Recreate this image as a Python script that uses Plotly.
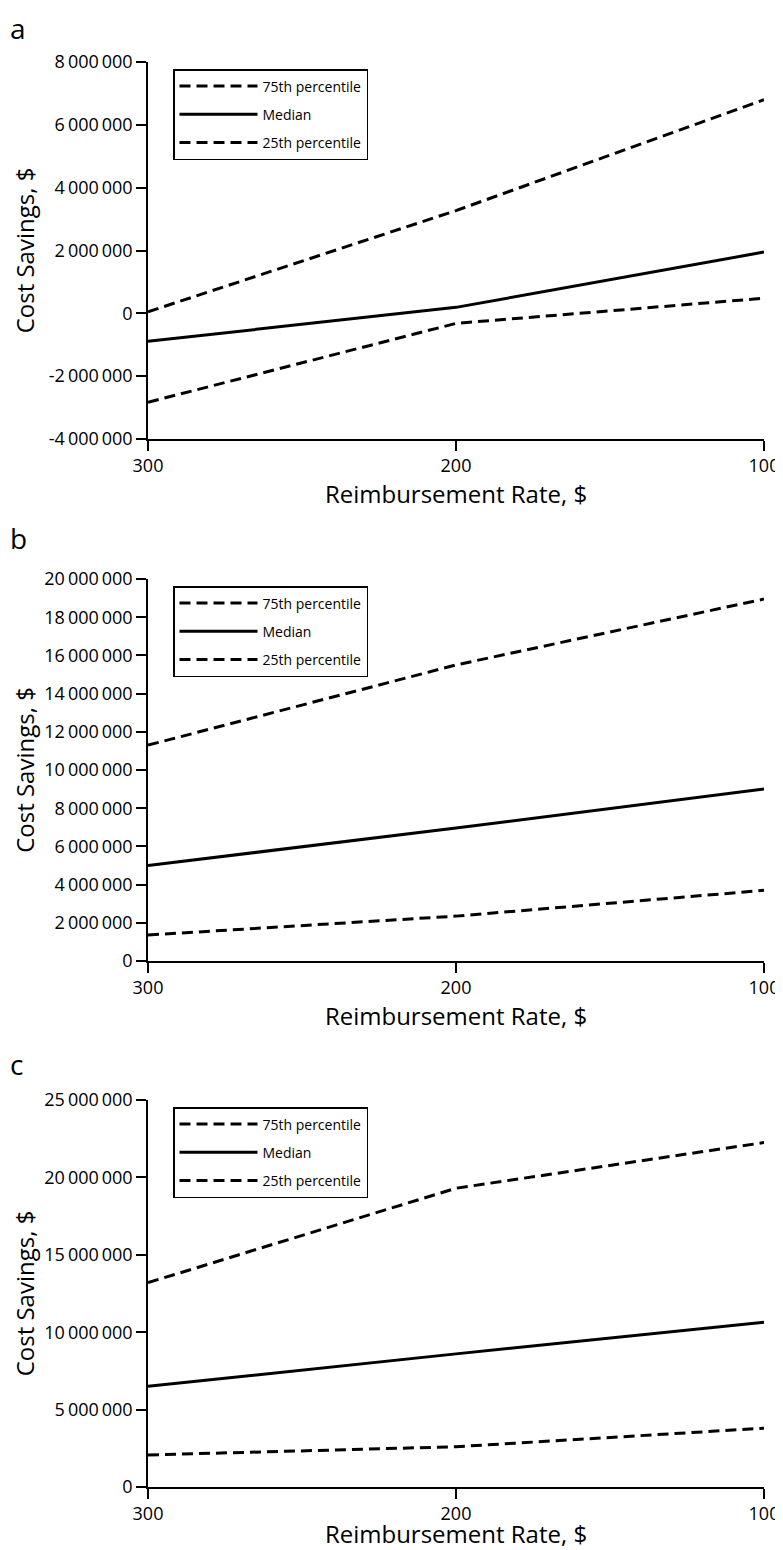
import plotly.graph_objects as go

rates = [300, 200, 100]
series_names = ["75th percentile", "Median", "25th percentile"]

a_p75 = [50000, 3270000, 6800000]
a_med = [-890000, 190000, 1950000]
a_p25 = [-2830000, -320000, 480000]

b_p75 = [11300000, 15500000, 18950000]
b_med = [5000000, 6960000, 9000000]
b_p25 = [1360000, 2350000, 3700000]

c_p75 = [13200000, 19300000, 22250000]
c_med = [6500000, 8600000, 10650000]
c_p25 = [2070000, 2600000, 3800000]

a_ticks = [-4000000, -2000000, 0, 2000000, 4000000, 6000000, 8000000]
b_ticks = [0, 2000000, 4000000, 6000000, 8000000, 10000000, 12000000, 14000000, 16000000, 18000000, 20000000]
c_ticks = [0, 5000000, 10000000, 15000000, 20000000, 25000000]
x_ticks = [300, 200, 100]
panel_labels = ["a", "b", "c"]

def fmt(v):
    s = f"{abs(v):,}".replace(",", "\u2009")
    return ("-" if v < 0 else "") + s

OFF = 8  # page body margin
W, H = 775, 1542
FONT = "Open Sans"

def px(xp):
    return (xp - OFF) / W

def py(yp):
    return 1 - (yp - OFF) / H

x0, x1 = px(148), px(764)
panels = [
    (a_p75, a_med, a_p25, a_ticks, (-4000000, 8000000), 62, 439, 28),
    (b_p75, b_med, b_p25, b_ticks, (0, 20000000), 579, 961, 538),
    (c_p75, c_med, c_p25, c_ticks, (0, 25000000), 1100, 1487, 1064),
]

fig = go.Figure()
layout = dict(
    width=W, height=H, margin=dict(l=0, r=0, t=0, b=0, autoexpand=False),
    paper_bgcolor="white", plot_bgcolor="white",
    font=dict(family=FONT, color="black"),
    showlegend=True,
)
annotations = []
for i, (p75, med, p25, ticks, yr, top, bot, ly) in enumerate(panels):
    n = "" if i == 0 else str(i + 1)
    xa, ya = "x" + n, "y" + n
    leg = "legend" + n
    styles = [(series_names[0], p75, "11px,6px"), (series_names[1], med, "solid"), (series_names[2], p25, "11px,6px")]
    for k, (name, vals, dash) in enumerate(styles):
        fig.add_trace(go.Scatter(
            x=rates, y=vals, mode="lines", name=name,
            line=dict(color="black", width=3, dash=dash),
            xaxis=xa, yaxis=ya, legend=leg, showlegend=True,
            legendgroup=f"g{i}{k}",
        ))
    layout["xaxis" + n] = dict(
        domain=[x0, x1], anchor=ya, range=[300, 100], showgrid=False, zeroline=False,
        automargin=False,
        showline=True, linecolor="black", linewidth=1.5,
        ticks="outside", ticklen=10, tickwidth=1.5, tickcolor="black",
        tickvals=x_ticks, ticktext=[str(t) for t in x_ticks],
        tickfont=dict(size=18, family=FONT),
        title=dict(text="Reimbursement Rate, $", font=dict(size=24, family=FONT), standoff=3),
    )
    layout["yaxis" + n] = dict(
        domain=[py(bot), py(top)], anchor=xa, range=list(yr), showgrid=False, zeroline=False,
        automargin=False,
        showline=True, linecolor="black", linewidth=1.5,
        ticks="outside", ticklen=10, tickwidth=1.5, tickcolor="black",
        tickvals=ticks, ticktext=[fmt(t) for t in ticks],
        tickfont=dict(size=18, family=FONT),
        title=dict(text="Cost Savings, $", font=dict(size=24, family=FONT), standoff=10),
    )
    layout[leg] = dict(
        x=px(173), y=py(top + 7), xanchor="left", yanchor="top",
        bordercolor="black", borderwidth=1.5, bgcolor="white",
        font=dict(size=14, family=FONT), tracegroupgap=7,
        traceorder="grouped", itemwidth=78,
    )
    annotations.append(dict(
        text=panel_labels[i], x=0, y=py(ly), xref="paper", yref="paper",
        xanchor="left", yanchor="middle", showarrow=False,
        font=dict(size=28, family=FONT, color="black"),
    ))
layout["annotations"] = annotations
fig.update_layout(**layout)
fig.write_html("out.html")
